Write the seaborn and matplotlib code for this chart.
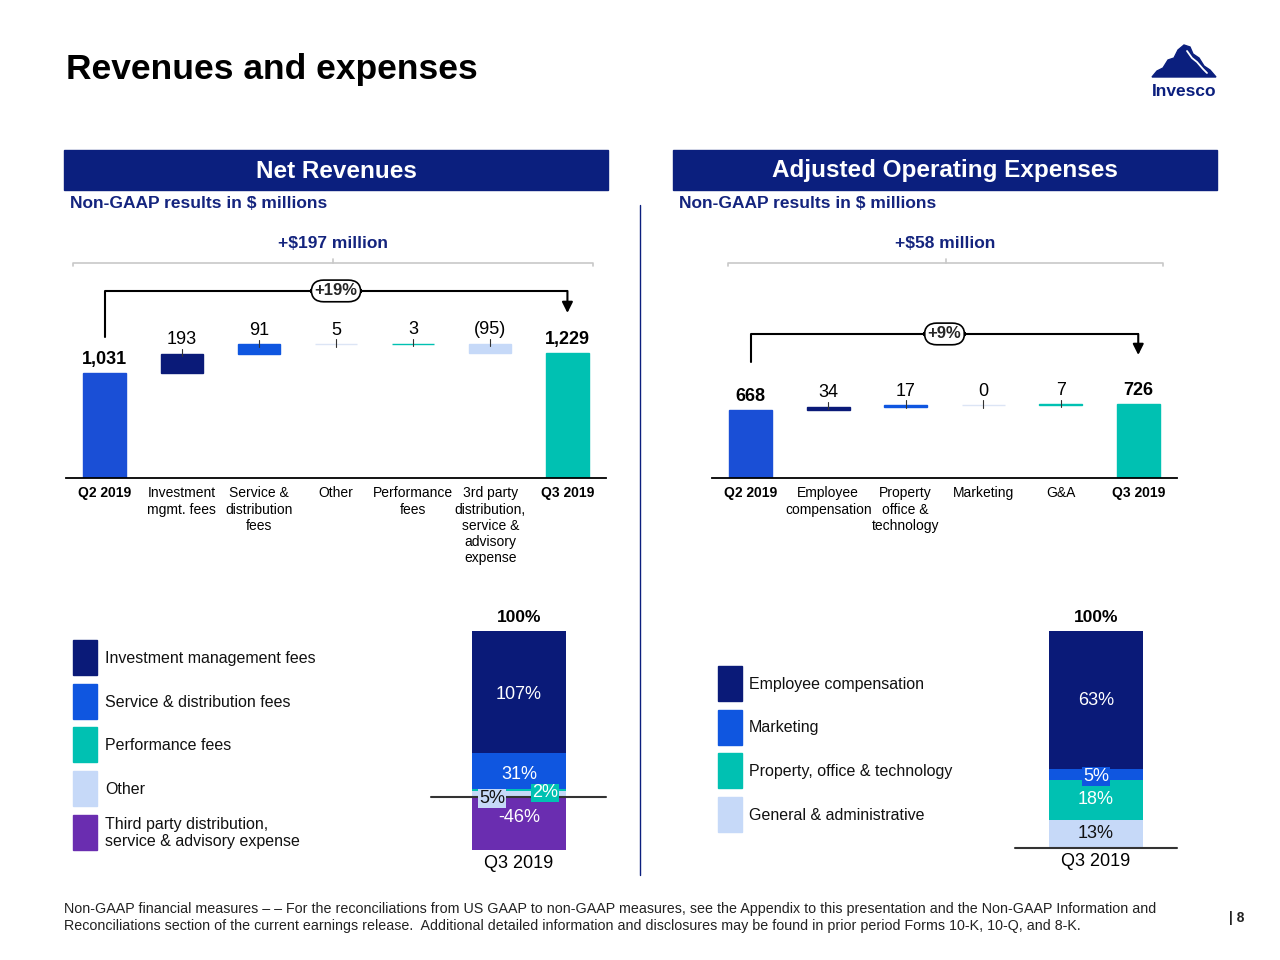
import numpy as np
import pandas as pd
import matplotlib
matplotlib.use("Agg")
import matplotlib.pyplot as plt
import seaborn as sns
from matplotlib.patches import Rectangle, Polygon
from matplotlib import font_manager

sns.set_theme(style="white", context="notebook")
plt.rcParams['font.family'] = ['Liberation Sans', 'DejaVu Sans']

# colours
NAVY_HDR = "#0B1F7E"
NAVY_TXT = "#14247E"
NAVY = "#0A1A78"
BLUE = "#0F56E0"
BLUE_Q2 = "#1A4FD6"
TEAL = "#00C1B2"
LIGHT = "#C6D9F8"
PALE = "#DCE5F5"
PURPLE = "#6A2DB0"

# --- data ---
rev_cats = ["Q2 2019", "Investment\nmgmt. fees", "Service &\ndistribution\nfees", "Other",
            "Performance\nfees", "3rd party\ndistribution,\nservice &\nadvisory\nexpense", "Q3 2019"]
rev_vals = [1031, 193, 91, 5, 3, -95, 1229]
rev_colors = [BLUE_Q2, NAVY, BLUE, PALE, TEAL, LIGHT, TEAL]
rev_change = "+$197 million"
rev_pct = "+19%"

exp_cats = ["Q2 2019", "Employee\ncompensation", "Property\noffice &\ntechnology", "Marketing", "G&A", "Q3 2019"]
exp_vals = [668, 34, 17, 0, 7, 726]
exp_colors = [BLUE_Q2, NAVY, BLUE, PALE, TEAL, TEAL]
exp_change = "+$58 million"
exp_pct = "+9%"

rev_mix_labels = ["Investment management fees", "Service & distribution fees", "Performance fees",
                  "Other", "Third party distribution,\nservice & advisory expense"]
rev_mix = [107, 31, 2, 5, -46]
rev_mix_colors = [NAVY, BLUE, TEAL, LIGHT, PURPLE]
rev_stack_order = [3, 2, 1, 0, 4]

exp_mix_labels = ["Employee compensation", "Marketing", "Property, office & technology",
                  "General & administrative"]
exp_mix = [63, 5, 18, 13]
exp_mix_colors = [NAVY, BLUE, TEAL, LIGHT]
exp_stack_order = [3, 2, 1, 0]

period = "Q3 2019"
total_label = "100%"

W, H = 1280, 960
fig = plt.figure(figsize=(12.8, 9.6), dpi=100)


def px_rect(x0, y0, x1, y1):
    return [x0 / W, 1 - y1 / H, (x1 - x0) / W, (y1 - y0) / H]


# background / layout layer in pixel coordinates
bg = fig.add_axes([0, 0, 1, 1])
bg.set_xlim(0, W)
bg.set_ylim(H, 0)
bg.axis("off")

bg.text(66, 70, "Revenues and expenses", fontsize=25.5, fontweight="bold", va="center", color="black")

for x0, title in [(64, "Net Revenues"), (673, "Adjusted Operating Expenses")]:
    bg.add_patch(Rectangle((x0, 150), 544, 40, color=NAVY_HDR))
    bg.text(x0 + 272, 171, title, color="white", fontsize=17.5, fontweight="bold", ha="center", va="center")
    bg.text(x0 + 6, 204, "Non-GAAP results in $ millions", color=NAVY_TXT, fontsize=12.5,
            fontweight="bold", va="center")

bg.plot([640, 640], [205, 875], color=NAVY_HDR, lw=1)

# grey brackets with the dollar change
for x0, x1, label in [(73, 593, rev_change), (728, 1163, exp_change)]:
    xc = (x0 + x1) / 2
    bg.plot([x0, x0, x1, x1], [266, 263, 263, 266], color="#C8C8C8", lw=1.2)
    bg.plot([xc, xc], [263, 259], color="#C8C8C8", lw=1.2)
    bg.text(xc, 243, label, color=NAVY_TXT, fontsize=12.5, fontweight="bold", ha="center", va="center")

# logo
bg.add_patch(Polygon([(1152, 77), (1157, 71), (1163, 68), (1168, 60), (1174, 58), (1178, 50), (1184, 45),
                      (1190, 47), (1193, 54), (1199, 58), (1204, 66), (1210, 70), (1216, 77)],
                     closed=True, color=NAVY_HDR))
bg.plot([1187, 1192, 1197, 1203, 1207], [51, 58, 62, 69, 73], color="white", lw=1.3)
bg.text(1184, 92, "Invesco", color=NAVY_HDR, fontsize=12.5, fontweight="bold", ha="center", va="center")

# footer
names = {f.name for f in font_manager.fontManager.ttflist}
if "Liberation Sans Narrow" in names:
    foot_kw = dict(family=["Liberation Sans Narrow", "DejaVu Sans"], fontsize=11.2)
else:
    foot_kw = dict(fontsize=10.3)
bg.text(64, 909, "Non-GAAP financial measures \u2013 \u2013 For the reconciliations from US GAAP to non-GAAP measures, "
        "see the Appendix to this presentation and the Non-GAAP Information and",
        va="center", color="#222222", **foot_kw)
bg.text(64, 926, "Reconciliations section of the current earnings release.  Additional detailed information and "
        "disclosures may be found in prior period Forms 10-K, 10-Q, and 8-K.",
        va="center", color="#222222", **foot_kw)
bg.text(1229, 918, "| 8", fontsize=10, fontweight="bold", va="center", color="#222222")


def waterfall(ax, cats, vals, colors, pct, y_bracket, y_low, y_tip):
    n = len(vals)
    bottoms, heights = [], []
    running = 0
    for i, v in enumerate(vals):
        if i == 0 or i == n - 1:
            bottoms.append(0)
            heights.append(v)
            running = v
        else:
            bottoms.append(running if v >= 0 else running + v)
            heights.append(abs(v))
            running += v
    ax.bar(cats, heights, bottom=bottoms, width=0.55, color=colors, edgecolor=colors, linewidth=1)
    for i, v in enumerate(vals):
        top = bottoms[i] + heights[i]
        total = i == 0 or i == n - 1
        lab = f"{v:,}" if v >= 0 else f"({abs(v)})"
        if not total:
            ax.plot([i, i], [top - 25, top + 45], color="#333333", lw=0.8)
        ax.annotate(lab, (i, top), xytext=(0, 10), textcoords="offset points", ha="center", va="center",
                    fontsize=13, fontweight="bold" if total else "normal", color="black")
    ax.set_xlim(-0.5, n - 0.5)
    ax.set_ylim(0, 1950)
    ax.set_yticks([])
    ax.tick_params(axis="x", length=0, pad=6, labelsize=10, labelcolor="black")
    for tl in ax.get_xticklabels():
        if tl.get_text() in ("Q2 2019", "Q3 2019"):
            tl.set_fontweight("bold")
    sns.despine(ax=ax, left=True)
    ax.spines["bottom"].set_color("black")
    ax.spines["bottom"].set_linewidth(1.3)
    ax.patch.set_alpha(0)
    # percentage bracket
    ax.plot([0, 0, n - 1, n - 1], [y_low, y_bracket, y_bracket, y_bracket - 1], color="black", lw=1.5,
            clip_on=False)
    ax.annotate("", xy=(n - 1, y_tip), xytext=(n - 1, y_bracket),
                arrowprops=dict(arrowstyle="-|>", color="black", lw=1.5, mutation_scale=16,
                                shrinkA=0, shrinkB=0), annotation_clip=False)
    ax.text((n - 1) / 2, y_bracket, pct, ha="center", va="center", fontsize=12, fontweight="bold",
            bbox=dict(boxstyle="round,pad=0.2,rounding_size=0.75", fc="white", ec="black", lw=1.2),
            clip_on=False)


def to_val(ypx):
    return (478 - ypx) / 0.1015


axL = fig.add_axes(px_rect(66, 280, 606, 478))
waterfall(axL, rev_cats, rev_vals, rev_colors, rev_pct, to_val(291), to_val(337), to_val(313))
axR = fig.add_axes(px_rect(712, 280, 1177, 478))
waterfall(axR, exp_cats, exp_vals, exp_colors, exp_pct, to_val(334), to_val(362), to_val(355))


def stacked(ax, vals, colors, order, styles, ylim, line_x):
    pos, neg = 0, 0
    for idx in order:
        v = vals[idx]
        if v >= 0:
            b = pos
            pos += v
        else:
            b = neg + v
            neg += v
        ax.bar([period], [abs(v)], bottom=[b], width=0.48, color=colors[idx], linewidth=0)
        dx, dy, tc, box = styles[idx]
        kw = dict(ha="center", va="center", fontsize=13, color=tc)
        if box is not None:
            kw["bbox"] = dict(boxstyle="square,pad=0.05", fc=box, ec="none")
        ax.text(dx, b + abs(v) / 2 + dy, f"{v}%", **kw)
    ax.annotate(total_label, (0, pos), xytext=(0, 10), textcoords="offset points", ha="center",
                va="center", fontsize=12.5, fontweight="bold", color="black")
    ax.plot(line_x, [0, 0], color="#333333", lw=1.5, clip_on=False)
    ax.set_xlim(-0.5, 0.5)
    ax.set_ylim(*ylim)
    ax.set_yticks([])
    ax.tick_params(axis="x", length=0, pad=3, labelsize=13, labelcolor="black")
    sns.despine(ax=ax, left=True, bottom=True)
    ax.patch.set_alpha(0)


rev_styles = {0: (0, -2, "white", None), 1: (0, -3, "white", None), 2: (0.133, -2.5, "white", TEAL),
              3: (-0.138, -4.2, "#111111", LIGHT), 4: (0, 5, "white", None)}
axL2 = fig.add_axes(px_rect(421, 600, 617, 851))
stacked(axL2, rev_mix, rev_mix_colors, rev_stack_order, rev_styles, (-47.2, 172), [-0.449, 0.444])

exp_styles = {0: (0, 0, "white", None), 1: (0, -0.7, "white", BLUE), 2: (0, 0, "white", None),
              3: (0, 0, "#111111", None)}
axR2 = fig.add_axes(px_rect(998, 600, 1194, 849))
stacked(axR2, exp_mix, exp_mix_colors, exp_stack_order, exp_styles, (-0.46, 113.2), [-0.413, 0.413])

# legends (colour swatches)
for i, (lab, col) in enumerate(zip(rev_mix_labels, rev_mix_colors)):
    top = 640 + i * 43.7
    bg.add_patch(Rectangle((73, top), 24, 35, color=col))
    bg.text(105, top + 18.5, lab, fontsize=11.5, va="center", color="#111111", linespacing=1.15)

for i, (lab, col) in enumerate(zip(exp_mix_labels, exp_mix_colors)):
    top = 666 + i * 43.7
    bg.add_patch(Rectangle((718, top), 24, 35, color=col))
    bg.text(749, top + 18, lab, fontsize=11.5, va="center", color="#111111")

fig.savefig("out.png", dpi=100)
